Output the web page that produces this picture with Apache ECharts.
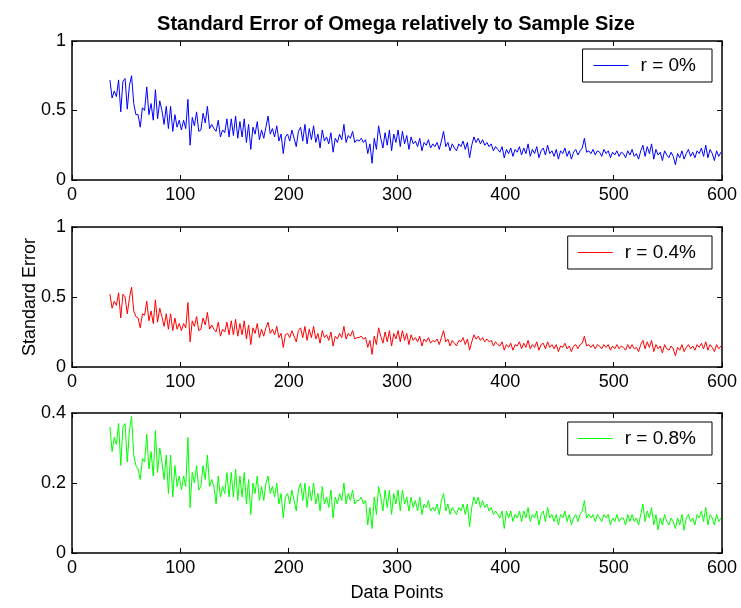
<!DOCTYPE html>
<html><head><meta charset="utf-8">
<script src="https://cdn.jsdelivr.net/npm/echarts@6/dist/echarts.min.js"></script>
<style>html,body{margin:0;padding:0;background:#fff}#c{width:741px;height:608px}</style>
</head><body><div id="c"></div>
<script>
const titleText = 'Standard Error of Omega relatively to Sample Size';
const xAxisTitle = 'Data Points';
const yAxisTitle = 'Standard Error';
const seriesNames = ['r = 0%', 'r = 0.4%', 'r = 0.8%'];
const seriesColors = ['#0000ff', '#ff0000', '#00ff00'];
const xMin = 0, xMax = 600, xTickStep = 100;
const yMaxes = [1, 1, 0.4];
const yTickSteps = [0.5, 0.5, 0.2];
// sample sizes: 35, 37, 39, ... 599
const xStart = 35, xStep = 2;

const rZero = [
0.72,0.59,0.64,0.60,0.72,0.49,0.71,0.73,0.51,0.68,
0.75,0.55,0.47,0.47,0.38,0.52,0.50,0.67,0.47,0.55,
0.43,0.65,0.44,0.57,0.50,0.40,0.53,0.37,0.53,0.35,
0.47,0.38,0.43,0.36,0.43,0.37,0.58,0.25,0.45,0.39,
0.49,0.35,0.36,0.48,0.41,0.53,0.37,0.40,0.37,0.35,
0.43,0.31,0.36,0.34,0.44,0.31,0.44,0.32,0.46,0.30,
0.42,0.31,0.44,0.27,0.40,0.22,0.38,0.33,0.42,0.29,
0.36,0.30,0.38,0.46,0.33,0.37,0.31,0.39,0.28,0.33,
0.19,0.31,0.33,0.28,0.36,0.30,0.24,0.35,0.38,0.28,
0.40,0.26,0.37,0.29,0.39,0.27,0.33,0.23,0.36,0.28,
0.31,0.26,0.34,0.20,0.30,0.27,0.33,0.29,0.40,0.27,
0.32,0.30,0.35,0.27,0.29,0.28,0.30,0.27,0.29,0.19,
0.26,0.12,0.30,0.22,0.39,0.30,0.23,0.34,0.25,0.36,
0.21,0.33,0.27,0.36,0.24,0.35,0.26,0.32,0.22,0.31,
0.26,0.28,0.24,0.30,0.21,0.27,0.25,0.29,0.23,0.26,
0.24,0.27,0.22,0.28,0.35,0.24,0.27,0.21,0.26,0.23,
0.21,0.26,0.24,0.28,0.22,0.27,0.16,0.25,0.31,0.27,
0.30,0.26,0.29,0.25,0.27,0.24,0.26,0.21,0.24,0.22,
0.20,0.24,0.16,0.22,0.19,0.23,0.17,0.22,0.20,0.24,
0.18,0.23,0.19,0.26,0.17,0.22,0.19,0.24,0.16,0.21,
0.23,0.18,0.25,0.19,0.21,0.17,0.22,0.15,0.21,0.19,
0.23,0.17,0.21,0.15,0.20,0.22,0.18,0.21,0.23,0.30,
0.20,0.21,0.19,0.22,0.18,0.21,0.20,0.17,0.22,0.19,
0.21,0.16,0.20,0.18,0.21,0.17,0.20,0.19,0.16,0.21,
0.18,0.22,0.17,0.19,0.15,0.21,0.25,0.17,0.24,0.19,
0.26,0.15,0.22,0.18,0.20,0.14,0.21,0.18,0.16,0.20,
0.17,0.11,0.19,0.16,0.21,0.15,0.19,0.22,0.17,0.20,
0.16,0.21,0.19,0.23,0.17,0.25,0.16,0.22,0.19,0.14,
0.21,0.17,0.20
];
const rPoint4 = [
0.52,0.42,0.47,0.44,0.53,0.35,0.52,0.50,0.38,0.49,
0.57,0.40,0.36,0.35,0.28,0.38,0.37,0.47,0.33,0.40,
0.31,0.48,0.32,0.42,0.36,0.29,0.38,0.27,0.38,0.26,
0.35,0.27,0.31,0.26,0.31,0.28,0.46,0.18,0.33,0.29,
0.36,0.26,0.27,0.35,0.30,0.39,0.27,0.30,0.27,0.25,
0.32,0.22,0.27,0.25,0.32,0.23,0.33,0.23,0.34,0.22,
0.31,0.23,0.33,0.20,0.30,0.16,0.28,0.24,0.31,0.21,
0.27,0.22,0.28,0.32,0.24,0.27,0.23,0.29,0.21,0.24,
0.14,0.23,0.24,0.21,0.26,0.22,0.18,0.26,0.28,0.21,
0.29,0.19,0.27,0.21,0.29,0.20,0.24,0.17,0.26,0.21,
0.23,0.19,0.25,0.15,0.22,0.20,0.24,0.21,0.29,0.20,
0.24,0.22,0.26,0.20,0.21,0.21,0.22,0.20,0.21,0.14,
0.19,0.09,0.22,0.16,0.28,0.22,0.17,0.25,0.18,0.26,
0.15,0.24,0.20,0.26,0.18,0.26,0.19,0.24,0.16,0.23,
0.19,0.21,0.18,0.22,0.15,0.20,0.18,0.21,0.17,0.19,
0.18,0.20,0.16,0.21,0.26,0.18,0.20,0.15,0.19,0.17,
0.15,0.19,0.18,0.21,0.16,0.20,0.12,0.18,0.23,0.20,
0.22,0.19,0.21,0.18,0.20,0.18,0.19,0.15,0.18,0.16,
0.15,0.18,0.12,0.16,0.14,0.17,0.12,0.16,0.15,0.18,
0.13,0.17,0.14,0.19,0.13,0.16,0.14,0.18,0.12,0.16,
0.17,0.13,0.18,0.14,0.16,0.13,0.16,0.11,0.15,0.14,
0.17,0.13,0.15,0.11,0.15,0.16,0.13,0.16,0.17,0.22,
0.15,0.16,0.14,0.16,0.13,0.16,0.15,0.13,0.16,0.14,
0.16,0.12,0.15,0.13,0.16,0.13,0.15,0.14,0.12,0.16,
0.13,0.16,0.13,0.14,0.11,0.16,0.19,0.13,0.18,0.14,
0.19,0.11,0.16,0.13,0.15,0.10,0.16,0.13,0.12,0.15,
0.13,0.08,0.14,0.12,0.16,0.11,0.14,0.16,0.13,0.15,
0.12,0.16,0.14,0.17,0.13,0.18,0.12,0.16,0.14,0.11,
0.16,0.13,0.15
];
const rPoint8 = [
0.36,0.29,0.33,0.31,0.37,0.25,0.36,0.37,0.26,0.35,
0.39,0.28,0.25,0.24,0.21,0.27,0.26,0.34,0.24,0.29,
0.22,0.35,0.23,0.30,0.26,0.21,0.28,0.17,0.28,0.16,
0.25,0.19,0.22,0.18,0.22,0.19,0.33,0.13,0.23,0.20,
0.25,0.18,0.19,0.25,0.21,0.28,0.19,0.21,0.19,0.14,
0.22,0.16,0.19,0.17,0.23,0.16,0.23,0.16,0.24,0.15,
0.22,0.16,0.23,0.14,0.21,0.11,0.20,0.17,0.22,0.15,
0.19,0.15,0.20,0.22,0.17,0.19,0.16,0.20,0.14,0.17,
0.10,0.16,0.17,0.14,0.18,0.15,0.12,0.18,0.20,0.15,
0.20,0.13,0.19,0.15,0.20,0.14,0.17,0.12,0.19,0.14,
0.16,0.13,0.18,0.10,0.16,0.14,0.17,0.15,0.20,0.14,
0.17,0.15,0.18,0.14,0.15,0.15,0.16,0.14,0.15,0.08,
0.13,0.07,0.16,0.11,0.19,0.16,0.12,0.18,0.13,0.18,
0.11,0.17,0.14,0.18,0.12,0.18,0.14,0.16,0.12,0.16,
0.13,0.15,0.12,0.16,0.11,0.14,0.13,0.15,0.12,0.13,
0.12,0.14,0.11,0.15,0.17,0.12,0.14,0.11,0.13,0.12,
0.11,0.13,0.12,0.14,0.11,0.14,0.075,0.13,0.16,0.14,
0.16,0.13,0.15,0.13,0.14,0.12,0.13,0.11,0.12,0.11,
0.10,0.12,0.07,0.12,0.10,0.12,0.09,0.11,0.10,0.12,
0.09,0.12,0.10,0.13,0.09,0.11,0.10,0.12,0.08,0.11,
0.12,0.09,0.13,0.10,0.11,0.09,0.11,0.08,0.11,0.10,
0.12,0.09,0.11,0.08,0.10,0.11,0.09,0.11,0.12,0.15,
0.10,0.11,0.10,0.11,0.09,0.11,0.10,0.09,0.11,0.10,
0.11,0.08,0.10,0.09,0.11,0.09,0.10,0.10,0.08,0.11,
0.09,0.11,0.09,0.10,0.08,0.11,0.14,0.09,0.12,0.10,
0.13,0.08,0.11,0.066,0.10,0.08,0.11,0.09,0.08,0.10,
0.09,0.07,0.10,0.08,0.11,0.065,0.10,0.11,0.09,0.10,
0.08,0.11,0.10,0.12,0.09,0.13,0.08,0.11,0.10,0.08,
0.11,0.09,0.10
];
const seriesValues = [rZero, rPoint4, rPoint8];

const FONT = '"Liberation Sans", Arial, Helvetica, sans-serif';
const gridTops = [41, 227, 413];
const gridHeights = [139, 140, 140];
const legendPad = [[7, 16, 7, 11], [7, 16, 7, 10], [7, 16, 7, 10]];
const legendTops = [49, 236, 422];

const grids = [], xAxes = [], yAxes = [], series = [], legends = [];
for (let i = 0; i < 3; i++) {
  grids.push({left: 72, right: 19, top: gridTops[i], height: gridHeights[i], containLabel: false});
  const axLine = {show: true, onZero: false, lineStyle: {color: '#000', width: 1.5}};
  const tick = {show: true, inside: true, length: 5, lineStyle: {color: '#000', width: 1}};
  const lbl = {color: '#000', fontSize: 18, fontFamily: FONT, margin: 6};
  xAxes.push({type: 'value', gridIndex: i, min: xMin, max: xMax, interval: xTickStep, position: 'bottom',
    axisLine: axLine, axisTick: tick, axisLabel: lbl, splitLine: {show: false},
    name: i === 2 ? xAxisTitle : '', nameLocation: 'middle', nameGap: 31, nameMoveOverlap: false,
    nameTextStyle: {color: '#000', fontSize: 18, fontFamily: FONT}});
  xAxes.push({type: 'value', gridIndex: i, min: xMin, max: xMax, interval: xTickStep, position: 'top',
    axisLine: axLine, axisTick: tick, axisLabel: {show: false}, splitLine: {show: false}});
  yAxes.push({type: 'value', gridIndex: i, min: 0, max: yMaxes[i], interval: yTickSteps[i], position: 'left',
    axisLine: axLine, axisTick: tick, axisLabel: lbl, splitLine: {show: false},
    name: i === 1 ? yAxisTitle : '', nameLocation: 'middle', nameGap: 33, nameMoveOverlap: false,
    nameTextStyle: {color: '#000', fontSize: 18, fontFamily: FONT}});
  yAxes.push({type: 'value', gridIndex: i, min: 0, max: yMaxes[i], interval: yTickSteps[i], position: 'right',
    axisLine: axLine, axisTick: tick, axisLabel: {show: false}, splitLine: {show: false}});
  series.push({
    name: seriesNames[i], type: 'line', xAxisIndex: 2 * i, yAxisIndex: 2 * i,
    symbol: 'none', showSymbol: false, animation: false,
    lineStyle: {color: seriesColors[i], width: 1}, itemStyle: {color: seriesColors[i]},
    data: seriesValues[i].map((v, k) => [xStart + xStep * k, v])
  });
  legends.push({
    data: [{name: seriesNames[i], icon: 'rect'}], right: 29, top: legendTops[i], selectedMode: false,
    backgroundColor: '#fff', borderColor: '#000', borderWidth: 1, borderRadius: 0,
    padding: legendPad[i], itemWidth: 35, itemHeight: 1,
    itemStyle: {color: seriesColors[i]},
    textStyle: {color: '#000', fontSize: 19, fontFamily: FONT, padding: [0, 0, 0, 7]}
  });
}

const chart = echarts.init(document.getElementById('c'), null, {renderer: 'canvas'});
chart.setOption({
  animation: false,
  backgroundColor: '#fff',
  title: {text: titleText, left: 391, textAlign: 'center', top: 9,
    textStyle: {color: '#000', fontSize: 20, fontWeight: 'bold', fontFamily: FONT}},
  grid: grids, xAxis: xAxes, yAxis: yAxes, series: series, legend: legends
});
</script>
</body></html>
